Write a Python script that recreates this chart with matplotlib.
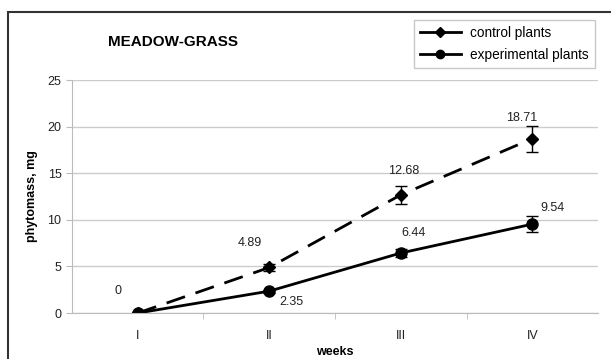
import numpy as np
import matplotlib.pyplot as plt
from matplotlib.patches import Rectangle
from matplotlib.lines import Line2D

plt.rcParams['font.family'] = ['Liberation Sans', 'DejaVu Sans']

weeks = ['I', 'II', 'III', 'IV']
control = [0, 4.89, 12.68, 18.71]
control_err = [0.1, 0.35, 1.0, 1.4]
experimental = [0, 2.35, 6.44, 9.54]
experimental_err = [0.1, 0.15, 0.4, 0.85]

x = np.arange(len(weeks))
fs = 9
c = '#222222'

fig = plt.figure(figsize=(6.11, 3.59), dpi=100)
ax = fig.add_axes([0.1178, 0.128, 0.861, 0.649])

# outer frame round the whole chart
fig.patches.append(Rectangle((0.013, -0.01), 0.99, 0.977, transform=fig.transFigure,
                             fill=False, edgecolor='#333333', linewidth=1.5))

dash = (0, (7, 4))
ax.errorbar(x, control, yerr=control_err, color='black', linestyle=dash,
            linewidth=2, marker='D', markersize=6.5, capsize=4, elinewidth=1)
ax.errorbar(x, experimental, yerr=experimental_err, color='black', linestyle='-',
            linewidth=2, marker='o', markersize=8, capsize=4, elinewidth=1)

# data labels (text positions next to the points)
ax.text(-0.15, 2.36, '0', ha='center', va='center', fontsize=fs, color=c)
ax.text(0.85, 7.5, f'{control[1]:.2f}', ha='center', va='center', fontsize=fs, color=c)
ax.text(2.02, 15.2, f'{control[2]:.2f}', ha='center', va='center', fontsize=fs, color=c)
ax.text(2.92, 20.9, f'{control[3]:.2f}', ha='center', va='center', fontsize=fs, color=c)
ax.text(1.17, 1.18, f'{experimental[1]:.2f}', ha='center', va='center', fontsize=fs, color=c)
ax.text(2.1, 8.6, f'{experimental[2]:.2f}', ha='center', va='center', fontsize=fs, color=c)
ax.text(3.15, 11.3, f'{experimental[3]:.2f}', ha='center', va='center', fontsize=fs, color=c)

ax.set_xlim(-0.5, 3.5)
ax.set_ylim(0, 25)
ax.set_yticks([0, 5, 10, 15, 20, 25])
ax.set_xticks(x)
ax.set_xticklabels(weeks)
ax.set_xticks([0.5, 1.5, 2.5], minor=True)
ax.tick_params(axis='x', which='major', length=0, pad=12, labelsize=fs, colors=c)
ax.tick_params(axis='x', which='minor', length=4, color='#bbbbbb')
ax.tick_params(axis='y', length=4, color='#bbbbbb', labelsize=fs, labelcolor=c)
ax.grid(axis='y', color='#cccccc', linewidth=1)
ax.set_axisbelow(True)
for s in ['top', 'right']:
    ax.spines[s].set_visible(False)
ax.spines['left'].set_color('#bbbbbb')
ax.spines['bottom'].set_color('#bbbbbb')

ax.set_xlabel('weeks', fontweight='bold', fontsize=fs, labelpad=3)
ax.set_ylabel('phytomass, mg', fontweight='bold', fontsize=fs, labelpad=7)

fig.text(0.177, 0.883, 'MEADOW-GRASS', fontweight='bold', fontsize=11, va='center')

handles = [Line2D([], [], color='black', linewidth=2, marker='D', markersize=5),
           Line2D([], [], color='black', linewidth=2, marker='o', markersize=6)]
fig.legend(handles, ['control plants', 'experimental plants'], loc='upper right',
           bbox_to_anchor=(0.974, 0.944), fontsize=9.8, frameon=True, fancybox=False,
           edgecolor='#bbbbbb', handlelength=3.0, borderpad=0.45, labelspacing=0.55,
           handletextpad=0.7, borderaxespad=0)

fig.savefig('out.png', dpi=100)
